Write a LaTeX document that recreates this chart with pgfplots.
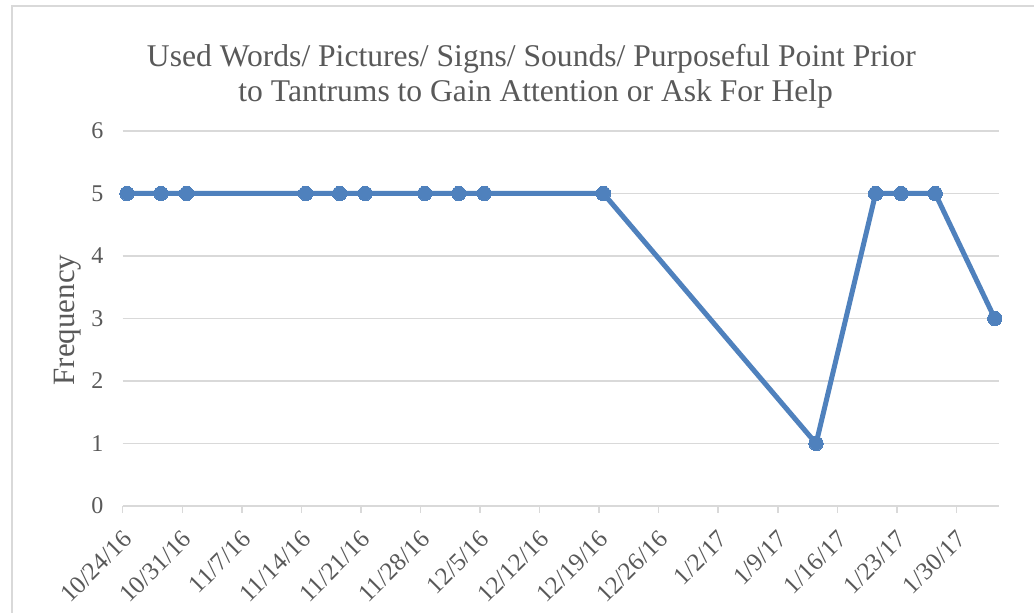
\documentclass[border=0pt]{standalone}
\usepackage{pgfplots}
\pgfplotsset{compat=1.18}
\usepackage{fontspec}
\setmainfont{Liberation Serif}
\definecolor{txt}{HTML}{595959}
\definecolor{gridc}{HTML}{D9D9D9}
\definecolor{frame}{HTML}{D9D9D9}
\definecolor{serblue}{HTML}{4F81BD}
\begin{document}
\begin{tikzpicture}[x=1pt,y=1pt]
\useasboundingbox (-61.35,-53.5) rectangle (455.65,253);
\fill[white] (-61.35,-53.5) rectangle (455.65,253);
\draw[frame, line width=0.8pt] (-55.35,-60) -- (-55.35,250) -- (470,250);
\begin{axis}[
  at={(0,0)}, anchor=south west,
  scale only axis, width=438.15pt, height=187.5pt,
  xmin=0, xmax=103, ymin=0, ymax=6,
  axis line style={draw=none},
  ymajorgrids, grid style={gridc, line width=0.75pt},
  ytick={0,1,2,3,4,5,6},
  ytick style={draw=none},
  xtick={0,7,14,21,28,35,42,49,56,63,70,77,84,91,98},
  xticklabels={10/24/16,10/31/16,11/7/16,11/14/16,11/21/16,11/28/16,12/5/16,12/12/16,12/19/16,12/26/16,1/2/17,1/9/17,1/16/17,1/23/17,1/30/17},
  xtick style={gridc, line width=0.75pt},
  xtick align=outside,
  xtick pos=lower,
  major tick length=3.5pt,
  /pgf/number format/assume math mode=true,
  yticklabel style={font=\fontsize{12}{14}\selectfont, text=txt, inner sep=0pt, xshift=-9.5pt},
  xticklabel style={font=\fontsize{12.5}{14}\selectfont, text=txt, inner sep=0pt, xshift=2.5pt, yshift=-11pt, rotate=45, anchor=east},
  clip=false,
]
\addplot[serblue, line width=2.5pt, mark=*, mark size=3.6pt, mark options={fill=serblue, draw=serblue, line width=0pt}] coordinates {
(0.5,5) (4.5,5) (7.5,5) (21.5,5) (25.5,5) (28.5,5) (35.5,5) (39.5,5) (42.5,5) (56.5,5) (81.5,1) (88.5,5) (91.5,5) (95.5,5) (102.5,3)
};
\end{axis}
\node[anchor=base, text=txt, font=\fontsize{15.8}{18}\selectfont, inner sep=0pt] at (204.4,219.65) {Used Words/ Pictures/ Signs/ Sounds/ Purposeful Point Prior};
\node[anchor=base, text=txt, font=\fontsize{15.8}{18}\selectfont, inner sep=0pt] at (206.5,202.15) {to Tantrums to Gain Attention or Ask For Help};
\node[rotate=90, text=txt, font=\fontsize{15.5}{18}\selectfont, inner sep=0pt] at (-27.35,93) {Frequency};
\end{tikzpicture}
\end{document}
